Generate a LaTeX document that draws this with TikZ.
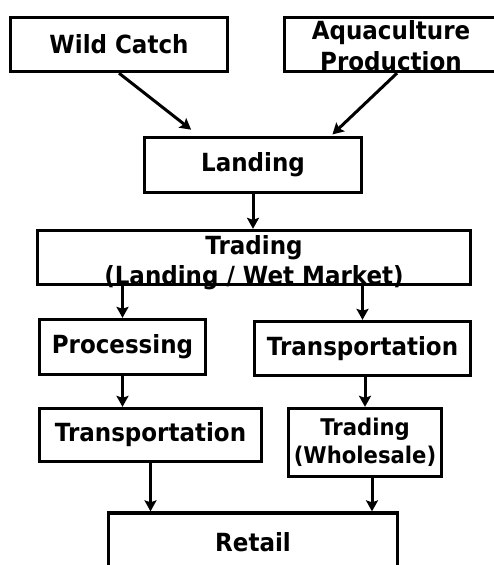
\documentclass[tikz,border=0pt]{standalone}
\usepackage{fontspec}
\setmainfont{DejaVu Sans}[FakeStretch=0.92]
\usetikzlibrary{arrows.meta,calc}
\begin{document}
\begin{tikzpicture}[x=1pt,y=-1pt,
  box/.style={draw=black, line width=3.3pt, fill=none, inner sep=0pt, align=center,
    font=\bfseries\fontsize{25}{30}\selectfont},
  lbl/.style={inner sep=0pt, align=center, font=\bfseries\fontsize{25}{30}\selectfont},
  arr/.style={line width=3pt, -{Stealth[length=11pt,width=12pt,inset=2pt]}}]
\useasboundingbox (0,0) rectangle (494,565);

% source boxes
\node[box, minimum width=217pt, minimum height=54pt] (wild) at (119,44.5) {Wild Catch};
\node[box, minimum width=213pt, minimum height=54pt] (aqua) at (391,44.5) {};
\node[lbl, font=\bfseries\fontsize{25}{31}\selectfont] (aquaText) at (391,46) {Aquaculture\\Production};

% landing and first trading stage
\node[box, minimum width=217pt, minimum height=55pt] (landing) at (253,165) {Landing};
\node[box, minimum width=433pt, minimum height=54pt] (trade) at (254,257.5) {};
\node[lbl] (tradeText) at (254,263) {Trading\\(Landing / Wet Market)};

% two branches
\node[box, minimum width=166pt, minimum height=55pt] (proc) at (122.5,347) {Processing};
\node[box, minimum width=216pt, minimum height=54pt] (transR) at (362.5,348.5) {Transportation};
\node[box, minimum width=222pt, minimum height=53pt] (transL) at (150.5,435) {Transportation};
\node[box, minimum width=153pt, minimum height=68pt,
  font=\bfseries\fontsize{23}{28}\selectfont] (whole) at (365,442.5) {Trading\\(Wholesale)};

% retail
\node[box, minimum width=289pt, minimum height=58pt] (retail) at (253,542) {Retail};

% connectors
\coordinate (wildIn) at ($(landing.north)+(-54,0)$);
\coordinate (aquaOut) at ($(aqua.south)+(6,0)$);
\coordinate (aquaIn) at ($(landing.north)+(78,0)$);
\coordinate (wholeOut) at ($(whole.south)+(7,0)$);

\draw[arr, shorten >=10pt] (wild.south) -- (wildIn);
\draw[arr, shorten >=2pt] (aquaOut) -- (aquaIn);
\draw[arr] (landing.south) -- (landing.south |- trade.north);
\draw[arr] (proc.north |- trade.south) -- (proc.north);
\draw[arr] (transR.north |- trade.south) -- (transR.north);
\draw[arr] (proc.south) -- (proc.south |- transL.north);
\draw[arr] (whole.north |- transR.south) -- (whole.north);
\draw[arr] (transL.south) -- (transL.south |- retail.north);
\draw[arr] (wholeOut) -- (wholeOut |- retail.north);
\end{tikzpicture}
\end{document}
